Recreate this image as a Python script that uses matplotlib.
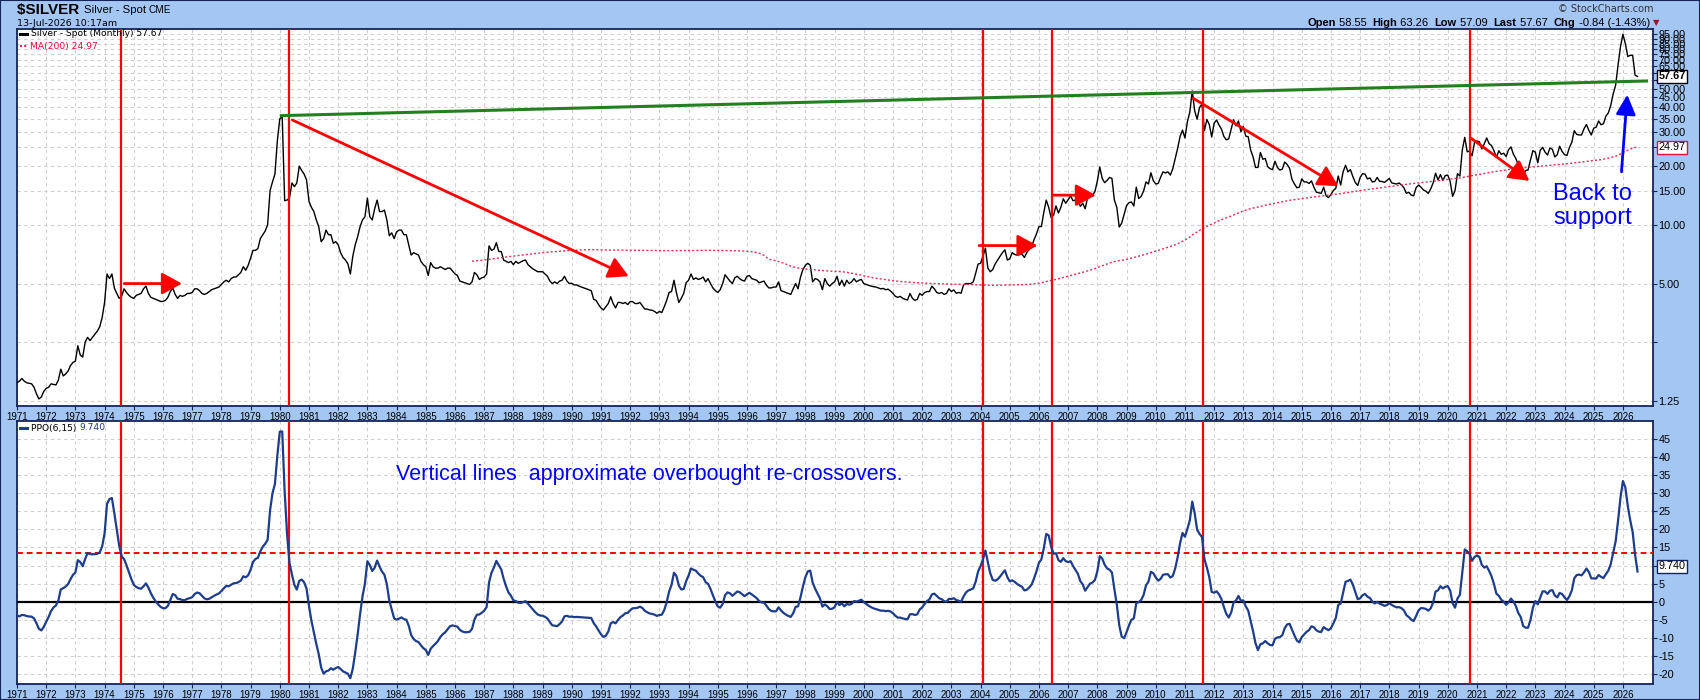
import numpy as np
import pandas as pd
import matplotlib.pyplot as plt
from matplotlib.lines import Line2D
from matplotlib.patches import Rectangle
from matplotlib.ticker import NullLocator

plt.rcParams['font.family'] = ['Liberation Sans', 'DejaVu Sans']

# $SILVER monthly closes, one row per year (1970 only warms up the MA / PPO)
silver_1970s = [
    1.85, 1.87, 1.85, 1.74, 1.64, 1.68, 1.73, 1.78, 1.78, 1.71, 1.69, 1.64,
    1.55, 1.58, 1.63, 1.58, 1.55, 1.54, 1.53, 1.47, 1.36, 1.28, 1.31, 1.40,
    1.45, 1.47, 1.53, 1.52, 1.51, 1.60, 1.82, 1.68, 1.72, 1.78, 1.90, 1.97,
    2.00, 2.40, 2.15, 2.10, 2.50, 2.65, 2.55, 2.65, 2.75, 2.85, 3.00, 3.35,
    4.00, 5.60, 5.30, 5.60, 4.75, 4.45, 4.20, 4.30, 4.70, 4.50, 4.35, 4.25,
    4.20, 4.35, 4.40, 4.45, 4.70, 4.85, 4.45, 4.25, 4.20, 4.15, 4.10, 4.05,
    4.05, 4.10, 4.25, 4.55, 4.75, 4.40, 4.20, 4.35, 4.30, 4.35, 4.45, 4.45,
    4.50, 4.70, 4.70, 4.60, 4.45, 4.40, 4.45, 4.55, 4.65, 4.70, 4.75, 4.80,
    4.95, 5.10, 5.20, 5.10, 5.30, 5.40, 5.40, 5.55, 5.70, 6.10, 5.85, 6.20,
    6.75, 7.40, 7.40, 7.55, 8.50, 8.90, 9.30, 10.00, 15.00, 16.60, 18.20, 27.00,
]
silver_1980s = [
    35.00, 35.80, 13.30, 13.40, 13.80, 16.40, 15.70, 16.40, 20.00, 19.00, 18.20, 17.00,
    13.20, 12.30, 11.70, 10.60, 9.80, 8.20, 8.50, 9.40, 8.90, 8.90, 8.05, 8.20,
    7.90, 7.20, 6.80, 6.60, 6.30, 5.60, 6.90, 7.90, 8.70, 9.80, 10.60, 11.00,
    13.70, 11.00, 10.60, 12.10, 13.40, 11.70, 11.70, 11.90, 10.60, 8.80, 9.10, 8.50,
    9.20, 9.40, 9.40, 8.90, 8.90, 7.90, 7.00, 7.20, 7.10, 7.00, 6.50, 6.25,
    6.10, 5.50, 6.40, 6.10, 6.00, 6.00, 6.10, 6.00, 5.90, 6.00, 6.00, 5.80,
    5.60, 5.50, 5.15, 5.10, 5.05, 5.00, 4.95, 5.10, 5.70, 5.55, 5.25, 5.35,
    5.40, 5.60, 7.80, 7.40, 7.50, 8.10, 7.30, 7.30, 6.60, 6.50, 6.40, 6.50,
    6.25, 6.50, 6.35, 6.45, 6.55, 6.60, 6.25, 6.10, 5.95, 5.85, 5.75, 5.75,
    5.75, 5.60, 5.45, 5.15, 5.00, 5.10, 5.00, 5.15, 5.20, 5.45, 5.15, 5.00,
]
silver_1990s = [
    5.02, 4.92, 4.92, 4.85, 4.80, 4.75, 4.70, 4.65, 4.60, 4.15, 4.10, 3.90,
    3.75, 3.66, 3.80, 3.95, 4.28, 3.95, 3.75, 4.00, 4.00, 3.95, 4.00, 3.90,
    4.04, 4.04, 3.95, 3.95, 4.00, 3.85, 3.70, 3.70, 3.66, 3.65, 3.60, 3.52,
    3.60, 3.55, 3.80, 4.10, 4.50, 4.55, 5.20, 4.50, 4.00, 4.20, 4.45, 5.05,
    5.20, 5.60, 5.25, 5.35, 5.25, 5.30, 5.40, 5.10, 5.30, 5.00, 4.75, 4.60,
    4.50, 4.65, 5.00, 5.55, 5.35, 5.15, 5.00, 5.35, 5.45, 5.30, 5.20, 5.15,
    5.45, 5.50, 5.30, 5.25, 5.20, 5.05, 5.10, 5.15, 4.90, 4.75, 4.75, 4.80,
    4.80, 5.10, 4.60, 4.55, 4.50, 4.45, 4.40, 4.70, 5.00, 4.70, 5.40, 5.90,
    6.20, 6.35, 6.20, 5.10, 5.30, 5.25, 5.10, 4.65, 5.30, 5.00, 4.85, 5.00,
    5.10, 5.45, 4.90, 5.20, 4.85, 5.20, 5.00, 5.10, 5.30, 5.10, 5.20, 5.25,
]
silver_2000s = [
    5.00, 4.95, 4.90, 4.85, 4.82, 4.80, 4.75, 4.70, 4.72, 4.65, 4.68, 4.58,
    4.45, 4.30, 4.25, 4.30, 4.20, 4.15, 4.12, 4.45, 4.20, 4.10, 4.15, 4.45,
    4.35, 4.50, 4.55, 4.55, 4.85, 4.70, 4.50, 4.45, 4.50, 4.40, 4.45, 4.70,
    4.55, 4.64, 4.46, 4.50, 4.46, 4.92, 5.00, 5.00, 5.00, 5.10, 5.65, 6.30,
    6.35, 6.90, 7.60, 6.00, 5.75, 5.90, 6.30, 6.60, 6.90, 7.20, 7.45, 6.60,
    6.70, 7.20, 7.05, 7.00, 7.05, 7.10, 6.80, 7.20, 7.50, 7.75, 8.40, 9.00,
    9.80, 9.80, 11.60, 13.40, 12.30, 10.90, 11.20, 12.50, 11.50, 12.30, 13.60, 12.90,
    13.45, 14.10, 13.30, 13.40, 13.30, 12.45, 12.90, 12.10, 13.85, 14.25, 14.20, 14.80,
    16.80, 19.80, 17.30, 16.45, 16.90, 17.50, 17.30, 13.40, 12.30, 9.75, 10.20, 11.30,
    12.55, 13.00, 13.10, 12.50, 15.60, 13.65, 14.00, 14.90, 16.60, 16.20, 18.50, 16.85,
]
silver_2010s = [
    16.20, 16.30, 17.55, 18.70, 18.45, 18.70, 18.00, 19.40, 21.90, 24.70, 28.40, 30.60,
    27.90, 33.80, 37.90, 48.60, 38.40, 34.80, 40.00, 41.60, 30.40, 34.70, 32.70, 28.20,
    33.20, 34.50, 32.50, 31.00, 28.40, 27.30, 27.60, 31.00, 34.60, 32.20, 34.10, 30.00,
    31.90, 28.50, 28.30, 24.20, 22.30, 19.70, 19.70, 23.50, 21.70, 21.90, 19.90, 19.40,
    19.20, 21.20, 19.70, 19.10, 19.30, 21.00, 20.40, 19.50, 17.10, 16.20, 15.50, 15.60,
    17.20, 16.60, 16.60, 16.30, 16.80, 15.60, 14.70, 14.60, 14.50, 15.60, 14.10, 13.80,
    14.30, 15.00, 15.40, 17.80, 16.00, 18.70, 20.20, 18.70, 19.20, 17.70, 16.50, 15.90,
    17.50, 18.30, 18.20, 17.20, 17.40, 16.60, 16.70, 17.50, 16.70, 16.70, 16.50, 16.90,
    17.30, 16.40, 16.30, 16.20, 16.40, 16.00, 15.50, 14.50, 14.70, 14.20, 14.10, 15.50,
    16.00, 15.60, 15.10, 14.90, 14.50, 15.30, 16.40, 18.40, 17.00, 18.10, 16.90, 17.90,
]
silver_2020s = [
    18.00, 16.70, 14.00, 15.00, 18.30, 17.80, 24.30, 28.10, 23.70, 23.90, 22.60, 26.40,
    26.90, 26.70, 24.50, 26.00, 27.90, 26.10, 25.50, 24.00, 22.20, 24.00, 23.00, 23.30,
    22.40, 24.30, 25.10, 23.00, 21.90, 20.30, 20.30, 17.80, 19.00, 19.10, 21.50, 24.00,
    23.60, 20.80, 24.10, 25.00, 23.60, 22.80, 24.80, 24.40, 22.30, 22.90, 25.30, 23.80,
    22.90, 22.70, 24.90, 26.50, 30.40, 29.10, 28.90, 28.90, 31.10, 32.70, 30.50, 28.90,
    31.30, 31.70, 34.10, 32.60, 33.00, 36.10, 37.50, 41.00, 47.00, 52.00, 66.00, 82.00,
    95.00, 85.00, 73.00, 74.00, 74.00, 58.50, 57.67,
]

years = list(range(1971, 2027))
price_ticks = [1.25, 2.5, 5, 10, 15, 20, 25, 30, 35, 40, 45, 50, 55, 60, 65, 70, 75, 80, 85, 90, 95]
ppo_ticks = list(range(-20, 50, 5))
crossovers = [1974.55, 1980.3, 2004.1, 2006.43, 2011.62, 2020.77]
overbought = 13.5
support_line = [(1980.0, 36.3), (2026.86, 54.7)]
red_arrows = [
    ((1974.67, 5.0), (1976.65, 5.0)),
    ((1980.43, 34.5), (1991.95, 5.45)),
    ((2003.95, 7.83), (2005.95, 7.83)),
    ((2006.46, 14.2), (2007.95, 14.2)),
    ((2011.28, 44.6), (2016.25, 15.8)),
    ((2020.80, 27.8), (2022.80, 16.8)),
]
blue_arrow = ((2025.95, 18.7), (2026.15, 46.5))

close = pd.Series(silver_1970s + silver_1980s + silver_1990s + silver_2000s + silver_2010s + silver_2020s)
dates = 1970 + np.arange(len(close)) / 12.0
ma200 = close.rolling(200).mean()
ema6 = close.ewm(span=6, adjust=False).mean()
ema15 = close.ewm(span=15, adjust=False).mean()
ppo = (ema6 - ema15) / ema15 * 100

BG = '#a3c6f3'
FRAME = '#14245a'
GRID = '#cfcfcf'
W, H = 1700, 700

fig = plt.figure(figsize=(17, 7), dpi=100, facecolor=BG)


def fx(px):
    return px / W


def fy(py):
    return 1 - py / H


ax1 = fig.add_axes([fx(17), fy(406), (1653 - 17) / W, (406 - 29) / H])
ax2 = fig.add_axes([fx(17), fy(684), (1653 - 17) / W, (684 - 421) / H])

for ax in (ax1, ax2):
    ax.set_facecolor('white')
    ax.set_xlim(1971, 2027.03)
    ax.set_xticks(years)
    ax.set_xticklabels([str(y) for y in years])
    ax.tick_params(axis='x', length=3, pad=1.5, labelsize=7, color=FRAME)
    ax.tick_params(axis='y', length=3, pad=1, labelsize=7.8, color=FRAME)
    ax.yaxis.tick_right()
    ax.grid(True, ls=(0, (3, 3)), color=GRID, lw=0.8)
    ax.set_axisbelow(True)
    for s in ax.spines.values():
        s.set_color(FRAME)
        s.set_linewidth(1.3)
    for c in crossovers:
        ax.axvline(c, color='#ff0000', lw=1.6, zorder=4)

# price panel
ax1.set_yscale('log')
ax1.set_ylim(1.178, 101)
ax1.yaxis.set_minor_locator(NullLocator())
ax1.set_yticks(price_ticks)
ax1.set_yticklabels(['' if v == 2.5 else '%.2f' % v for v in price_ticks])
ax1.plot(dates, close, color='black', lw=1.0, zorder=3)
ax1.plot(dates, ma200, color='#e0305a', lw=1.0, ls=(0, (1.5, 1.5)), zorder=3)
(x0, y0), (x1, y1) = support_line
ax1.plot([x0, x1], [y0, y1], color='#22801f', lw=2.2, zorder=5, solid_capstyle='butt')
for start, tip in red_arrows:
    ax1.annotate('', xy=tip, xytext=start,
                 arrowprops=dict(arrowstyle='-|>,head_length=0.55,head_width=0.3', color='#ff0000',
                                 lw=2, mutation_scale=22, shrinkA=0, shrinkB=0), zorder=6)
ax1.annotate('', xy=blue_arrow[1], xytext=blue_arrow[0],
             arrowprops=dict(arrowstyle='-|>,head_length=0.6,head_width=0.3', color='#0000ff',
                             lw=2, mutation_scale=20, shrinkA=0, shrinkB=0), zorder=6)
ax1.text(2024.97, 12.5, 'Back to\nsupport', color='#0000ff', fontsize=17,
         ha='center', va='center', linespacing=1.1, zorder=6)

# PPO panel
ax2.set_ylim(-22.8, 50)
ax2.set_yticks(ppo_ticks)
ax2.set_yticklabels([str(v) for v in ppo_ticks])
ax2.axhline(0, color='black', lw=1.6, zorder=3)
ax2.axhline(overbought, color='#ff0000', lw=1.4, ls=(0, (3, 2)), zorder=3)
ax2.plot(dates, ppo, color='#1d3d8c', lw=1.6, zorder=5)
ax2.text(1983.98, 35.3, 'Vertical lines  approximate overbought re-crossovers.',
         color='#0000ff', fontsize=15.5, ha='left', va='center', zorder=6)

# value tags on the right axis
tag = dict(xycoords=('axes fraction', 'data'), textcoords='offset points', xytext=(4, 0),
           ha='left', va='center', fontsize=7.8, annotation_clip=False, zorder=10)
ax1.annotate('57.67', xy=(1, 57.67), fontweight='bold',
             bbox=dict(boxstyle='square,pad=0.12', fc='white', ec='black', lw=1), **tag)
ax1.annotate('24.97', xy=(1, 24.97),
             bbox=dict(boxstyle='square,pad=0.12', fc='white', ec='#e0103a', lw=1), **tag)
ax2.annotate('9.740', xy=(1, 9.74),
             bbox=dict(boxstyle='square,pad=0.12', fc='white', ec=FRAME, lw=1), **tag)

# in-panel legends
leg = 'DejaVu Sans'
fig.add_artist(Line2D([fx(20), fx(27)], [fy(34), fy(34)], color='black', lw=2.2))
fig.text(fx(31), fy(34), 'Silver - Spot (Monthly) 57.67', family=leg, fontsize=6.6, va='center')
fig.add_artist(Line2D([fx(20), fx(28)], [fy(46), fy(46)], color='#e0305a', lw=1.5, ls=(0, (1, 1))))
fig.text(fx(30), fy(46), 'MA(200) 24.97', family=leg, fontsize=6.6, va='center', color='#e0103a')
fig.add_artist(Line2D([fx(20), fx(27)], [fy(428), fy(428)], color='#1d3d8c', lw=2.2))
t = fig.text(fx(31), fy(428), 'PPO(6,15) ', family=leg, fontsize=6.6, va='center')

renderer = fig.canvas.get_renderer()


def run_text(x, y, parts):
    for s, kw in parts:
        txt = fig.text(x, y, s, va='center', **kw)
        x += txt.get_window_extent(renderer).width / W


run_text(fx(31) + t.get_window_extent(renderer).width / W, fy(428),
         [('9.740', dict(family=leg, fontsize=6.6, color='#1d3d8c'))])

# header
run_text(fx(17), fy(10), [('$SILVER ', dict(fontsize=11, fontweight='bold')),
                         ('Silver - Spot ', dict(fontsize=8.2)),
                         ('CME', dict(fontsize=7.2))])
fig.text(fx(17), fy(23), '13-Jul-2026 10:17am', family=leg, fontsize=6.8, va='center')
fig.text(fx(1653), fy(9), '\u00a9 StockCharts.com', family=leg, fontsize=7, va='center',
         ha='right', color='#333333')
b = dict(fontsize=8, fontweight='bold')
n = dict(fontsize=8)
run_text(fx(1307), fy(23), [('Open', b), (' 58.55  ', n), ('High', b), (' 63.26  ', n),
                             ('Low', b), (' 57.09  ', n), ('Last', b), (' 57.67  ', n),
                             ('Chg', b), (' -0.84 (-1.43%) ', n),
                             ('\u25bc', dict(fontsize=6, color='#a0102a', family='DejaVu Sans'))])

fig.add_artist(Rectangle((0, 0), 1, 1, transform=fig.transFigure, fill=False,
                         ec=FRAME, lw=1.5))

fig.savefig('out.png', dpi=100, facecolor=BG)
